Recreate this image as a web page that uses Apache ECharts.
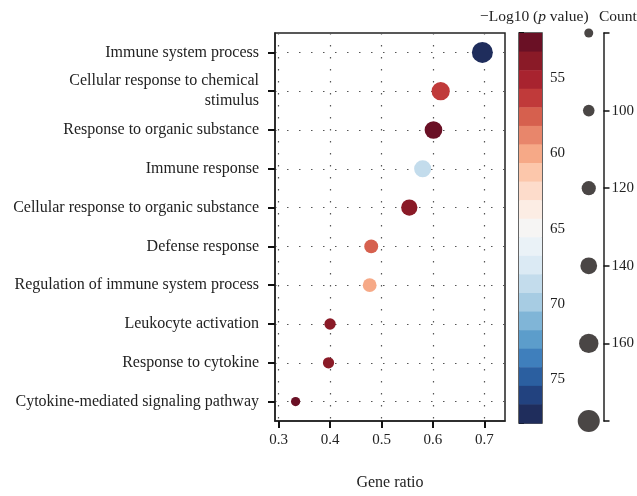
<!DOCTYPE html>
<html><head><meta charset="utf-8">
<script src="https://cdn.jsdelivr.net/npm/echarts@6/dist/echarts.min.js"></script>
<style>html,body{margin:0;padding:0;background:#fff}#c{width:637px;height:496px}</style>
</head><body><div id="c"></div>
<script>
const categories = [
  "Immune system process",
  "Cellular response to chemical\nstimulus",
  "Response to organic substance",
  "Immune response",
  "Cellular response to organic substance",
  "Defense response",
  "Regulation of immune system process",
  "Leukocyte activation",
  "Response to cytokine",
  "Cytokine-mediated signaling pathway"
];
const geneRatio = [0.696, 0.615, 0.601, 0.580, 0.554, 0.480, 0.477, 0.400, 0.397, 0.333];
const logP      = [77.9, 56.3, 52.0, 68.6, 53.9, 57.5, 60.0, 53.9, 53.5, 52.5];
const counts    = [172, 151, 147, 142, 136, 118, 117, 98, 97, 82];
const xTicks = [0.3, 0.4, 0.5, 0.6, 0.7];
const pTicks = [55, 60, 65, 70, 75];
const countTicks = [80, 100, 120, 140, 160, 180];
const bandColors = ["#6a1025","#8a1a27","#a8232f","#c03a3a","#d6604e","#e8866b","#f6a987",
  "#fcc7ab","#fddccb","#fcede4","#f6f5f4","#eaf2f7","#dbeaf4","#c3dcec",
  "#a7cce3","#80b5d7","#5c9dcb","#3f7fbc","#2b5fa0","#22427f","#1f2d5c"];
const pMin = 52.0, pMax = 77.9;

const FONT = "Liberation Serif";
const step = (pMax - pMin) / bandColors.length;
const bands = bandColors.map((c, i) => [pMin + i * step, pMin + (i + 1) * step, c]);
const pieces = bands.map((b, i) => ({gte: b[0], lt: i === bands.length - 1 ? b[1] + 1 : b[1], color: b[2]}));
const sizeOf = c => 9 + (c - 80) * 0.13;

const mainData = categories.map((c, i) => [geneRatio[i], c, counts[i], logP[i]]);

const chart = echarts.init(document.getElementById('c'), null, {renderer: 'canvas'});
chart.setOption({
  animation: false,
  backgroundColor: '#fff',
  textStyle: {fontFamily: FONT},
  title: [
    {text: '{a|\u2212Log10 (}{b|p}{a| value)}', left: 475, top: 4,
     textStyle: {fontWeight: 'normal', rich: {
       a: {fontFamily: FONT, fontSize: 15.5, fontWeight: 'normal', color: '#222'},
       b: {fontFamily: FONT, fontSize: 15.5, fontWeight: 'normal', fontStyle: 'italic', color: '#222'}}}},
    {text: 'Count', left: 594, top: 4, textStyle: {fontFamily: FONT, fontSize: 15.5, fontWeight: 'normal', color: '#222'}}
  ],
  grid: [
    {left: 275, top: 33, width: 230, height: 390, show: true, borderColor: '#222', borderWidth: 1.5, backgroundColor: 'transparent'},
    {left: 519, top: 33, width: 23, height: 390, show: true, borderColor: '#333', borderWidth: 1.5, backgroundColor: 'transparent'},
    {left: 574, top: 33, width: 33, height: 388, show: false}
  ],
  xAxis: [
    {gridIndex: 0, type: 'value', min: 0.293, max: 0.74,
     name: 'Gene ratio', nameLocation: 'middle', nameGap: 54,
     nameTextStyle: {fontFamily: FONT, fontSize: 16, color: '#222'},
     axisLine: {show: true, lineStyle: {color: '#222', width: 1.5}},
     axisTick: {show: true, customValues: xTicks, length: 7, lineStyle: {color: '#111', width: 2}},
     axisLabel: {customValues: xTicks, margin: 12, fontFamily: FONT, fontSize: 15, color: '#222', formatter: v => v.toFixed(1)},
     splitLine: {show: true, lineStyle: {color: '#555', type: [1.5, 10.5], width: 1.2}}},
    {gridIndex: 1, type: 'value', min: 0, max: 1, show: false},
    {gridIndex: 2, type: 'value', min: -1, max: 1, show: false}
  ],
  yAxis: [
    {gridIndex: 0, type: 'category', data: categories, inverse: true, boundaryGap: true,
     axisLine: {show: true, lineStyle: {color: '#222', width: 1.5}},
     axisTick: {show: true, alignWithLabel: true, length: 7, lineStyle: {color: '#111', width: 2}},
     axisLabel: {margin: 16, fontFamily: FONT, fontSize: 16, color: '#222', lineHeight: 20, align: 'right'},
     splitLine: {show: true, alignWithLabel: true, lineStyle: {color: '#555', type: [1.5, 10.5], width: 1.2}}},
    {gridIndex: 1, type: 'value', position: 'right', inverse: true, min: pMin, max: pMax,
     axisLine: {show: false},
     axisTick: {show: true, customValues: [pMin].concat(pTicks, [pMax]), length: 5, lineStyle: {color: '#111', width: 2}},
     axisLabel: {customValues: pTicks, margin: 8, fontFamily: FONT, fontSize: 15, color: '#222'},
     splitLine: {show: false}},
    {gridIndex: 2, type: 'value', position: 'right', inverse: true, min: 80, max: 180, interval: 20,
     axisLine: {show: true, onZero: false, lineStyle: {color: '#222', width: 1.5}},
     axisTick: {show: true, customValues: countTicks, length: 6, lineStyle: {color: '#111', width: 1.5}},
     axisLabel: {customValues: countTicks.slice(1, -1), margin: 8, fontFamily: FONT, fontSize: 15, color: '#222'},
     splitLine: {show: false}}
  ],
  visualMap: [{type: 'piecewise', show: false, seriesIndex: 0, dimension: 3, pieces: pieces}],
  series: [
    {type: 'scatter', xAxisIndex: 0, yAxisIndex: 0, data: mainData,
     symbolSize: v => sizeOf(v[2]), itemStyle: {opacity: 1}, z: 5},
    {type: 'custom', xAxisIndex: 1, yAxisIndex: 1, data: bands, silent: true,
     renderItem: (params, api) => {
       const p0 = api.coord([0, api.value(0)]);
       const p1 = api.coord([1, api.value(1)]);
       return {type: 'rect', shape: {x: p0[0], y: Math.min(p0[1], p1[1]), width: p1[0] - p0[0], height: Math.abs(p1[1] - p0[1]) + 0.5},
               style: {fill: bands[params.dataIndex][2]}};
     }, z: 1},
    {type: 'scatter', xAxisIndex: 2, yAxisIndex: 2, data: countTicks.map(c => [0, c]),
     symbolSize: v => sizeOf(v[1]), itemStyle: {color: '#4a4645', opacity: 1}}
  ]
});
</script></body></html>
